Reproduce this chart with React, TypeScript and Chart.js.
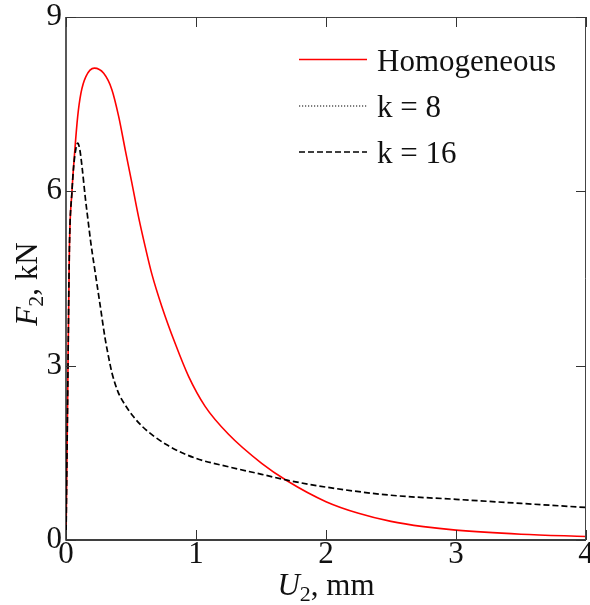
import React, { useEffect, useRef } from "react";
import { Chart, registerables } from "chart.js";

Chart.register(...registerables);

// Displacement U2 (mm) and force F2 (kN)
const homX = [0, 0.012, 0.026, 0.046, 0.068, 0.09, 0.115, 0.152, 0.218, 0.29, 0.353, 0.405, 0.456, 0.507, 0.558, 0.61, 0.66, 0.737, 0.84, 0.942, 1.07, 1.25, 1.505, 1.7, 2.0, 2.25, 2.5, 2.75, 3.0, 3.5, 4.0];
const homY = [0, 2.3, 4.99, 6.0, 6.71, 7.29, 7.69, 7.97, 8.12, 8.03, 7.75, 7.29, 6.71, 6.14, 5.56, 5.04, 4.58, 4.02, 3.38, 2.82, 2.3, 1.82, 1.32, 1.02, 0.66, 0.46, 0.32, 0.23, 0.17, 0.1, 0.06];

const k16X = [0, 0.012, 0.026, 0.046, 0.059, 0.075, 0.09, 0.106, 0.123, 0.148, 0.174, 0.19, 0.225, 0.264, 0.3, 0.33, 0.353, 0.4, 0.456, 0.52, 0.584, 0.68, 0.789, 0.993, 1.25, 1.505, 1.7, 2.0, 2.5, 3.0, 3.5, 4.0];
const k16Y = [0, 2.3, 4.99, 6.0, 6.43, 6.72, 6.83, 6.72, 6.43, 5.9, 5.42, 5.13, 4.6, 4.02, 3.48, 3.12, 2.88, 2.55, 2.32, 2.12, 1.96, 1.78, 1.62, 1.41, 1.26, 1.13, 1.03, 0.91, 0.77, 0.7, 0.63, 0.56];

// k = 8 curve is not distinguishable in the picture (legend entry only)
const k8X: number[] = [];
const k8Y: number[] = [];

const seriesLabels = ["Homogeneous", "k = 8", "k = 16"];
const xTicks = [0, 1, 2, 3, 4];
const yTicks = [0, 3, 6, 9];

const FONT = "'Liberation Serif', 'DejaVu Serif', serif";

const toPts = (xs: number[], ys: number[]) => xs.map((x, i) => ({ x, y: ys[i] }));

const decorPlugin = {
  id: "decor",
  afterDraw(chart: any) {
    const { ctx, chartArea } = chart;
    const { left, right, top, bottom } = chartArea;
    const xs = chart.scales.x;
    const ys = chart.scales.y;
    ctx.save();
    // frame
    ctx.strokeStyle = "#000";
    ctx.lineWidth = 1.3;
    ctx.beginPath();
    ctx.moveTo(left, top);
    ctx.lineTo(left, bottom);
    ctx.lineTo(right, bottom);
    ctx.stroke();
    ctx.strokeStyle = "#444";
    ctx.lineWidth = 1;
    ctx.beginPath();
    ctx.moveTo(left, top + 0.5);
    ctx.lineTo(right - 0.5, top + 0.5);
    ctx.lineTo(right - 0.5, bottom);
    ctx.stroke();
    // inside ticks
    const tl = 10;
    ctx.strokeStyle = "#333";
    ctx.lineWidth = 1;
    ctx.beginPath();
    xTicks.forEach((v) => {
      const px = Math.round(xs.getPixelForValue(v)) + 0.5;
      ctx.moveTo(px, bottom);
      ctx.lineTo(px, bottom - tl);
      ctx.moveTo(px, top);
      ctx.lineTo(px, top + tl);
    });
    yTicks.forEach((v) => {
      const py = Math.round(ys.getPixelForValue(v)) + 0.5;
      ctx.moveTo(left, py);
      ctx.lineTo(left + tl, py);
      ctx.moveTo(right, py);
      ctx.lineTo(right - tl, py);
    });
    ctx.stroke();

    // legend
    const rows = [59.5, 106, 152];
    const lx0 = 299;
    const lx1 = 367;
    chart.data.datasets.forEach((ds: any, i: number) => {
      const yy = rows[i];
      ctx.save();
      ctx.strokeStyle = ds.borderColor;
      ctx.lineWidth = ds.borderWidth;
      ctx.setLineDash(ds.borderDash || []);
      ctx.beginPath();
      ctx.moveTo(lx0, yy);
      ctx.lineTo(lx1, yy);
      ctx.stroke();
      ctx.restore();
      ctx.fillStyle = "#111";
      ctx.font = `31px ${FONT}`;
      ctx.textAlign = "left";
      ctx.textBaseline = "alphabetic";
      ctx.fillText(ds.label, 377, yy + 11);
    });

    // axis titles
    const drawTitle = (main: string, sub: string, rest: string, cx: number, cy: number, rot: boolean) => {
      ctx.save();
      ctx.translate(cx, cy);
      if (rot) ctx.rotate(-Math.PI / 2);
      ctx.fillStyle = "#111";
      ctx.textBaseline = "alphabetic";
      ctx.textAlign = "left";
      const fMain = `italic 31px ${FONT}`;
      const fSub = `22px ${FONT}`;
      const fRest = `31px ${FONT}`;
      ctx.font = fMain;
      const w1 = ctx.measureText(main).width;
      ctx.font = fSub;
      const w2 = ctx.measureText(sub).width;
      ctx.font = fRest;
      const w3 = ctx.measureText(rest).width;
      let x = -(w1 + w2 + w3) / 2;
      ctx.font = fMain;
      ctx.fillText(main, x, 0);
      x += w1;
      ctx.font = fSub;
      ctx.fillText(sub, x, 6);
      x += w2;
      ctx.font = fRest;
      ctx.fillText(rest, x, 0);
      ctx.restore();
    };
    drawTitle("U", "2", ", mm", (left + right) / 2, 595, false);
    drawTitle("F", "2", ", kN", 37, 284, true);
    ctx.restore();
  },
};

export default function App() {
  const ref = useRef<HTMLCanvasElement | null>(null);
  useEffect(() => {
    const prevMargin = document.body.style.margin;
    document.body.style.margin = "0";
    if (!ref.current) return;
    const chart = new Chart(ref.current, {
      type: "line",
      data: {
        datasets: [
          {
            label: seriesLabels[0],
            data: toPts(homX, homY),
            borderColor: "#ff0000",
            borderWidth: 1.6,
            pointRadius: 0,
            cubicInterpolationMode: "monotone",
            order: 2,
          },
          {
            label: seriesLabels[1],
            data: toPts(k8X, k8Y),
            borderColor: "#000000",
            borderWidth: 1.2,
            borderDash: [1.2, 1.8],
            pointRadius: 0,
            cubicInterpolationMode: "monotone",
            order: 1,
          },
          {
            label: seriesLabels[2],
            data: toPts(k16X, k16Y),
            borderColor: "#000000",
            borderWidth: 1.7,
            borderDash: [6, 3],
            pointRadius: 0,
            cubicInterpolationMode: "monotone",
            order: 0,
          },
        ],
      },
      options: {
        responsive: false,
        animation: false,
        layout: { padding: { left: 0, top: 17, right: 4, bottom: 0 } },
        plugins: { legend: { display: false }, tooltip: { enabled: false } },
        scales: {
          x: {
            type: "linear",
            min: 0,
            max: 4,
            grid: { display: false, drawTicks: false },
            border: { display: false },
            ticks: {
              stepSize: 1,
              padding: -1,
              color: "#111",
              font: { family: FONT, size: 31, lineHeight: 1 },
              maxRotation: 0,
            },
            afterFit: (s: any) => {
              s.height = 65;
              s.paddingLeft = 0;
              s.paddingRight = 0;
            },
          },
          y: {
            type: "linear",
            min: 0,
            max: 9,
            grid: { display: false, drawTicks: false },
            border: { display: false },
            ticks: {
              stepSize: 3,
              padding: 4,
              color: "#111",
              font: { family: FONT, size: 31, lineHeight: 1 },
            },
            afterFit: (s: any) => {
              s.width = 66;
              s.paddingTop = 0;
              s.paddingBottom = 0;
            },
          },
        },
      },
      plugins: [decorPlugin],
    });
    return () => {
      chart.destroy();
      document.body.style.margin = prevMargin;
    };
  }, []);
  return (
    <div style={{ position: "absolute", left: 0, top: 0, width: 590, height: 605, background: "#fff" }}>
      <canvas ref={ref} width={590} height={605} style={{ display: "block" }} />
    </div>
  );
}
